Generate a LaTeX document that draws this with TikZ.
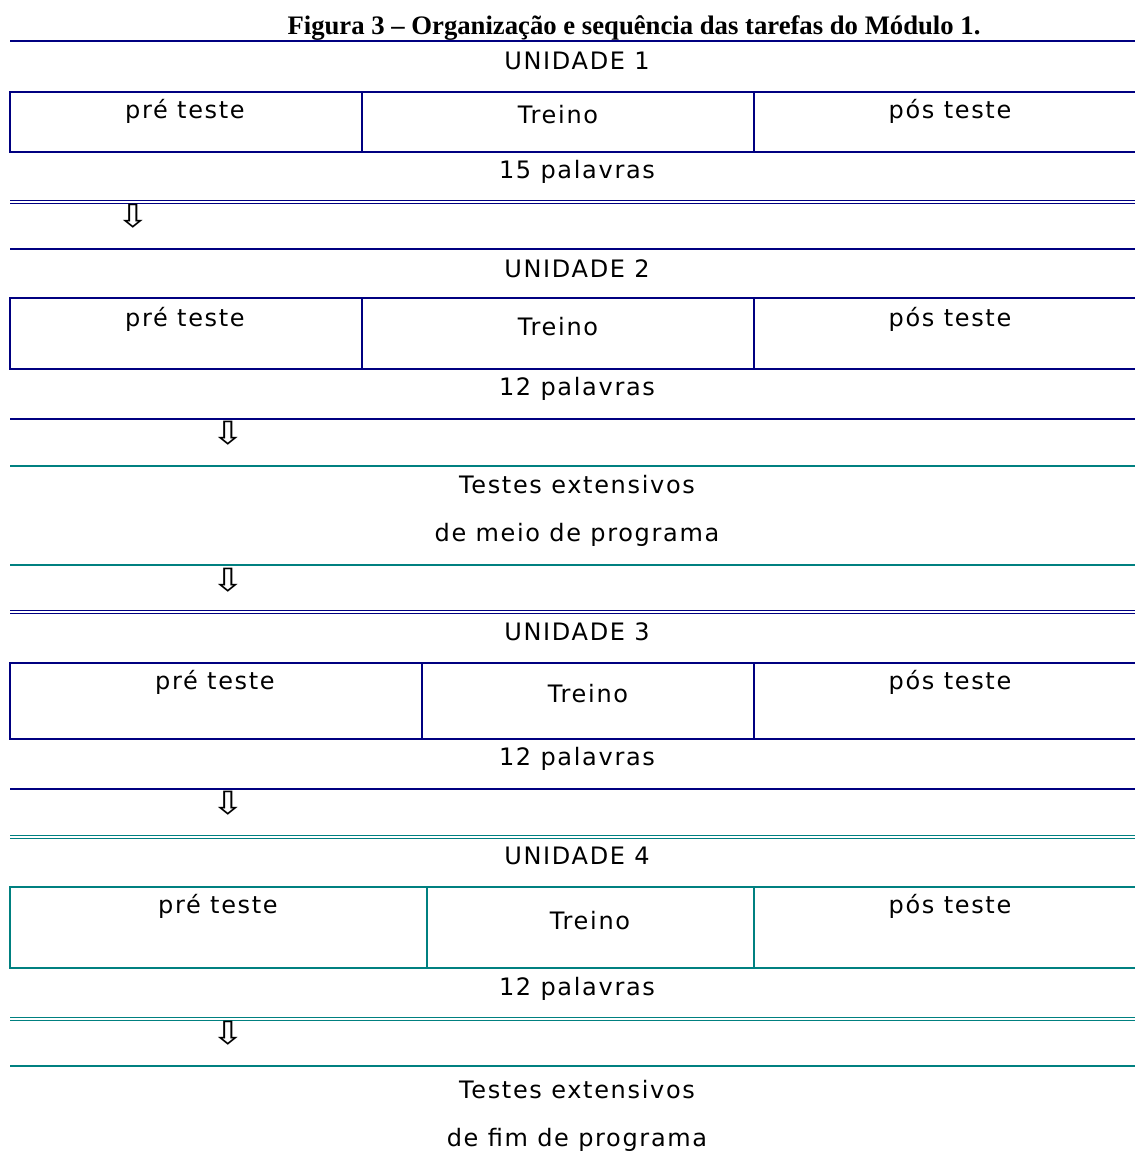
\documentclass[tikz,border=0pt]{standalone}
\usepackage{fontspec}
\setmainfont{DejaVu Sans}
\newfontfamily\titlefont{Liberation Serif}
\definecolor{navy}{HTML}{000080}
\definecolor{tealc}{HTML}{008080}
\begin{document}
\begin{tikzpicture}[x=1pt,y=-1pt,
  txt/.style={font=\fontsize{24}{28}\selectfont\addfontfeature{LetterSpace=7}, inner sep=0pt, anchor=base},
  arr/.style={font=\fontsize{32}{36}\selectfont, inner sep=0pt, anchor=center, xscale=1.25},
  rule/.style={line width=2pt},
  dbl/.style={line width=1pt}]
\useasboundingbox[fill=white] (0,0) rectangle (1135,1168);
% title
\node[anchor=base, inner sep=0pt, font=\titlefont\bfseries\fontsize{26.7}{30}\selectfont] (title) at (634,34) {Figura 3 – Organização e sequência das tarefas do Módulo 1.};
\draw[rule, navy] (10,41) -- (1135,41);
% Unidade 1
\node[txt] (u1) at (577,69) {UNIDADE 1};
\draw[rule, navy] (1136,92) -- (10,92) -- (10,152) -- (1136,152);
\draw[rule, navy] (362,92) -- (362,152) (754,92) -- (754,152);
\node[txt] (u1pre) at (185,118) {pré teste};
\node[txt] (u1tr) at (558,123) {Treino};
\node[txt] (u1pos) at (950,118) {pós teste};
\node[txt] (u1n) at (577,178) {15 palavras};
\draw[dbl, navy] (10,200.5) -- (1135,200.5) (10,203) -- (1135,203);
\node[arr] (a1) at (133,216) {⇩};
\draw[rule, navy] (10,249) -- (1135,249);
% Unidade 2
\node[txt] (u2) at (577,277) {UNIDADE 2};
\draw[rule, navy] (1136,298) -- (10,298) -- (10,369) -- (1136,369);
\draw[rule, navy] (362,298) -- (362,369) (754,298) -- (754,369);
\node[txt] (u2pre) at (185,326) {pré teste};
\node[txt] (u2tr) at (558,335) {Treino};
\node[txt] (u2pos) at (950,326) {pós teste};
\node[txt] (u2n) at (577,395) {12 palavras};
\draw[rule, navy] (10,419) -- (1135,419);
\node[arr] (a2) at (228,433) {⇩};
% meio de programa
\draw[rule, tealc] (10,466) -- (1135,466);
\node[txt] (m1) at (577,493) {Testes extensivos};
\node[txt] (m2) at (577,541) {de meio de programa};
\draw[rule, tealc] (10,565) -- (1135,565);
\node[arr] (a3) at (228,580) {⇩};
\draw[dbl, navy] (10,610.5) -- (1135,610.5) (10,613) -- (1135,613);
% Unidade 3
\node[txt] (u3) at (577,640) {UNIDADE 3};
\draw[rule, navy] (1136,663) -- (10,663) -- (10,739) -- (1136,739);
\draw[rule, navy] (422,663) -- (422,739) (754,663) -- (754,739);
\node[txt] (u3pre) at (215,689) {pré teste};
\node[txt] (u3tr) at (588,702) {Treino};
\node[txt] (u3pos) at (950,689) {pós teste};
\node[txt] (u3n) at (577,765) {12 palavras};
\draw[rule, navy] (10,789) -- (1135,789);
\node[arr] (a4) at (228,803) {⇩};
\draw[dbl, tealc] (10,835.5) -- (1135,835.5) (10,838) -- (1135,838);
% Unidade 4
\node[txt] (u4) at (577,864) {UNIDADE 4};
\draw[rule, tealc] (1136,887) -- (10,887) -- (10,968) -- (1136,968);
\draw[rule, tealc] (427,887) -- (427,968) (754,887) -- (754,968);
\node[txt] (u4pre) at (218,913) {pré teste};
\node[txt] (u4tr) at (590,929) {Treino};
\node[txt] (u4pos) at (950,913) {pós teste};
\node[txt] (u4n) at (577,995) {12 palavras};
\draw[dbl, tealc] (10,1017.5) -- (1135,1017.5) (10,1020) -- (1135,1020);
\node[arr] (a5) at (228,1033) {⇩};
\draw[rule, tealc] (10,1066) -- (1135,1066);
% fim de programa
\node[txt] (f1) at (577,1098) {Testes extensivos};
\node[txt] (f2) at (577,1146) {de fim de programa};
\end{tikzpicture}
\end{document}
